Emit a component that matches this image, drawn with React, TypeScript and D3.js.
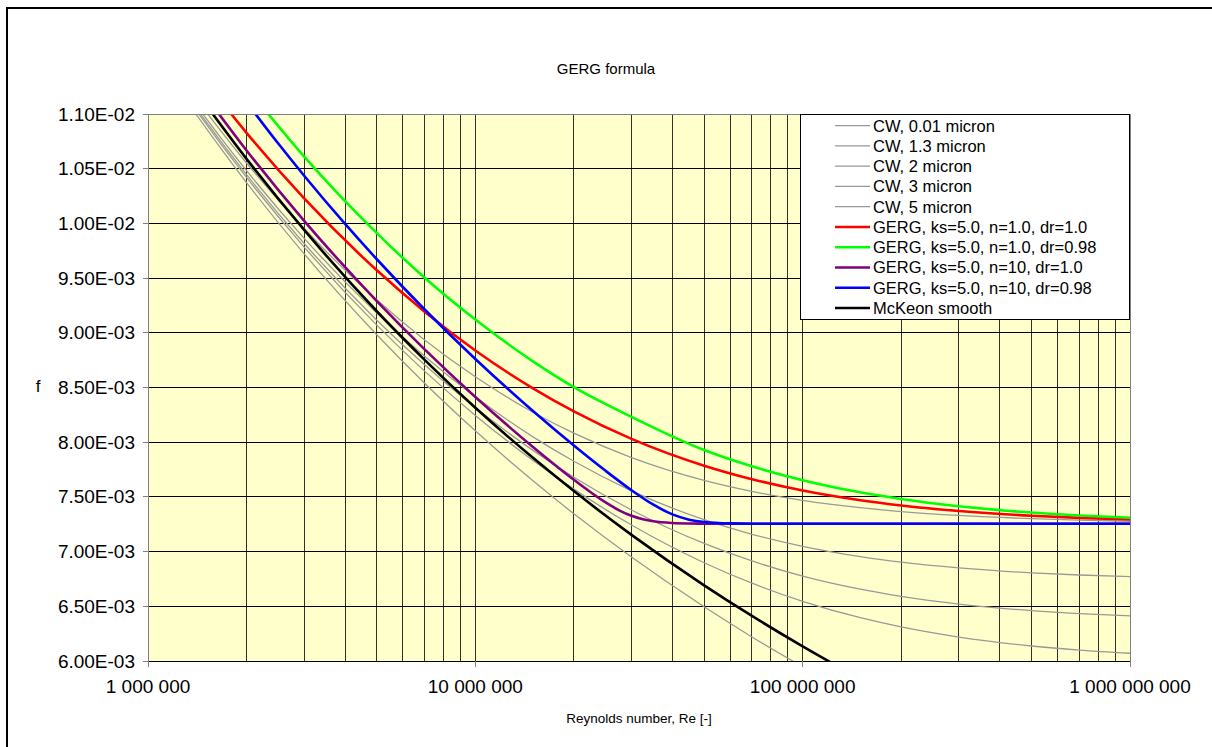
import React from "react";
import * as d3 from "d3";

// ---------- data ----------
const reCW = [1.3e6, 1.4e6, 2e6, 3e6, 5e6, 7e6, 1e7, 1.5e7, 2e7, 3e7, 5e7, 7e7, 1e8, 1.5e8, 2e8, 3e8, 5e8, 7e8, 1e9];
const cw001 = [0.011137, 0.011001, 0.010373, 0.0097214, 0.0089821, 0.008539, 0.008104, 0.0076474, 0.0073462, 0.0069505, 0.0064956, 0.00622, 0.0059466];
const cw13 = [0.011174, 0.011038, 0.01042, 0.0097834, 0.0090701, 0.0086498, 0.0082448, 0.0078329, 0.0075707, 0.0072431, 0.0068982, 0.0067109, 0.0065457, 0.0063956, 0.0063112, 0.0062185, 0.0061372, 0.0060999, 0.0060707];
const cw2 = [0.011192, 0.011058, 0.010446, 0.0098158, 0.0091155, 0.0087077, 0.0083164, 0.0079252, 0.0076798, 0.0073804, 0.0070745, 0.0069143, 0.0067765, 0.0066569, 0.0065913, 0.0065207, 0.0064605, 0.0064334, 0.0064127];
const cw3 = [0.011219, 0.011087, 0.010482, 0.0098628, 0.0091796, 0.0087859, 0.0084156, 0.0080485, 0.0078254, 0.0075555, 0.0072916, 0.0071585, 0.0070478, 0.0069537, 0.0069033, 0.0068504, 0.0068059, 0.0067863, 0.0067714];
const cw5 = [0.011273, 0.011144, 0.010552, 0.0099528, 0.009302, 0.0089352, 0.0085988, 0.0082738, 0.0080822, 0.0078587, 0.0076505, 0.0075497, 0.0074686, 0.0074015, 0.0073663, 0.0073303, 0.0073005, 0.0072876, 0.0072776];

const reRed = [1.5e6, 2e6, 3e6, 5e6, 7e6, 1e7, 1.5e7, 2e7, 3e7, 5e7, 7e7, 1e8, 1.5e8, 2e8, 3e8, 5e8, 7e8, 1e9];
const gergRed = [0.011296, 0.010828, 0.010229, 0.009571, 0.0091931, 0.008838, 0.0084921, 0.0082815, 0.0080304, 0.0077852, 0.0076616, 0.007558, 0.0074697, 0.007422, 0.0073712, 0.007328, 0.0073085, 0.0072933];

const reGreen = [2e6, 3e6, 5e6, 7e6, 1e7, 1.5e7, 2e7, 3e7, 5e7, 7e7, 1e8, 1.5e8, 2e8, 3e8, 5e8, 7e8, 1e9];
const gergGreen = [0.011244, 0.010611, 0.0099112, 0.009504, 0.0091215, 0.0087386, 0.0085025, 0.0082315, 0.0079285, 0.0077796, 0.007653, 0.0075419, 0.0074807, 0.0074145, 0.0073567, 0.0073302, 0.0073095];

const rePurple = [1.4e6, 2e6, 3e6, 5e6, 7e6, 1e7, 1.5e7, 2e7, 2.5e7, 2.75e7, 3e7, 3.25e7, 3.5e7, 4e7, 4.5e7, 5e7, 7e7, 1e8, 1e9];
const gergPurple = [0.011285, 0.010667, 0.010023, 0.0092898, 0.0088482, 0.0084134, 0.0079564, 0.0076565, 0.0074494, 0.0073776, 0.0073272, 0.0072953, 0.0072769, 0.0072613, 0.0072568, 0.0072553, 0.0072544, 0.0072544, 0.0072544];

const reBlue = [1.8e6, 2.5e6, 3e6, 4e6, 5e6, 7e6, 1e7, 1.5e7, 2e7, 2.5e7, 3e7, 3.5e7, 4e7, 4.5e7, 5e7, 6e7, 7e7, 1e8, 1e9];
const gergBlue = [0.011291, 0.01073, 0.010436, 0.0099951, 0.0096723, 0.0092132, 0.0087604, 0.0082844, 0.0079694, 0.0077382, 0.007561, 0.0074283, 0.00734, 0.0072921, 0.0072704, 0.0072576, 0.0072551, 0.0072544, 0.0072544];

const reMcKeon = [1.4e6, 2e6, 3e6, 5e6, 7e6, 1e7, 1.5e7, 2e7, 3e7, 5e7, 7e7, 1e8, 1.3e8];
const mcKeon = [0.01121, 0.01059, 0.00994, 0.009197, 0.008753, 0.008315, 0.007857, 0.007553, 0.007153, 0.006692, 0.006412, 0.006134, 0.00594];

const seriesNames = [
  "CW, 0.01 micron",
  "CW, 1.3 micron",
  "CW, 2 micron",
  "CW, 3 micron",
  "CW, 5 micron",
  "GERG, ks=5.0, n=1.0, dr=1.0",
  "GERG, ks=5.0, n=1.0, dr=0.98",
  "GERG, ks=5.0, n=10, dr=1.0",
  "GERG, ks=5.0, n=10, dr=0.98",
  "McKeon smooth",
];
const seriesColors = ["#999999", "#999999", "#999999", "#999999", "#999999", "#ff0000", "#00ff00", "#800080", "#0000ff", "#000000"];
const seriesX = [reCW, reCW, reCW, reCW, reCW, reRed, reGreen, rePurple, reBlue, reMcKeon];
const seriesY = [cw001, cw13, cw2, cw3, cw5, gergRed, gergGreen, gergPurple, gergBlue, mcKeon];

const yTicks = [0.006, 0.0065, 0.007, 0.0075, 0.008, 0.0085, 0.009, 0.0095, 0.01, 0.0105, 0.011];
const xTicks = [1e6, 1e7, 1e8, 1e9];
const xTickLabels = ["1 000 000", "10 000 000", "100 000 000", "1 000 000 000"];

const titleText = "GERG formula";
const xTitle = "Reynolds number, Re [-]";
const yTitle = "f";

// ---------- layout ----------
const W = 1212;
const H = 747;
const PL = 148, PR = 1130, PT = 114, PB = 661;
const FONT = "'Liberation Sans', Arial, sans-serif";

function fmtE(v: number) {
  const [m, e] = v.toExponential(2).split("e");
  const n = Math.abs(parseInt(e, 10));
  return `${m}E${e[0] === "-" ? "-" : "+"}${String(n).padStart(2, "0")}`;
}

export default function App() {
  const x = d3.scaleLog().domain([1e6, 1e9]).range([PL, PR]);
  const y = d3.scaleLinear().domain([0.006, 0.011]).range([PB, PT]);

  const minor: number[] = [];
  for (let p = 6; p < 9; p++) {
    for (let k = 1; k <= 9; k++) {
      const v = k * Math.pow(10, p);
      if (v > 1e6) minor.push(v);
    }
  }

  const line = d3
    .line<[number, number]>()
    .x((d) => x(d[0]))
    .y((d) => y(d[1]))
    .curve(d3.curveMonotoneX);

  const paths = seriesY.map((ys, i) => {
    const xs = seriesX[i];
    const pts: [number, number][] = ys.map((v, j) => [xs[j], v]);
    return line(pts) || "";
  });

  const legX = 800, legY = 114, legW = 329, legH = 205;
  const legRow = 20.25, legFirst = 125.7;

  return (
    <svg width={W} height={H} style={{ position: "absolute", left: 0, top: 0, background: "#fff" }} fontFamily={FONT}>
      <defs>
        <clipPath id="plotClip">
          <rect x={PL} y={PT} width={PR - PL} height={PB - PT} />
        </clipPath>
      </defs>
      <rect x={0} y={0} width={W} height={H} fill="#fff" />
      {/* outer frame */}
      <rect x={7} y={8} width={W + 20} height={H + 20} fill="none" stroke="#000" strokeWidth={2} />

      <text x={606} y={68} textAnchor="middle" dominantBaseline="central" fontSize={15}>
        {titleText}
      </text>

      {/* plot area */}
      <rect x={PL} y={PT} width={PR - PL} height={PB - PT} fill="#ffffcc" />
      <g shapeRendering="crispEdges">
        {yTicks.slice(1, -1).map((t) => (
          <line key={"h" + t} x1={PL} x2={PR} y1={y(t)} y2={y(t)} stroke="#000" strokeWidth={1} />
        ))}
        {minor.map((t) => (
          <line key={"v" + t} x1={x(t)} x2={x(t)} y1={PT} y2={PB} stroke="#000" strokeWidth={1} opacity={0.8} />
        ))}
      </g>

      <g clipPath="url(#plotClip)" fill="none" strokeLinejoin="round" strokeLinecap="round">
        {paths.map((d, i) => (
          <path key={i} d={d} stroke={seriesColors[i]} strokeWidth={i < 5 ? 1.3 : 2.6} />
        ))}
      </g>

      {/* border and axes */}
      <g shapeRendering="crispEdges">
        <rect x={PL} y={PT} width={PR - PL} height={PB - PT} fill="none" stroke="#808080" strokeWidth={1} />
        <line x1={PL} x2={PR} y1={PB} y2={PB} stroke="#000" />
        {yTicks.map((t) => (
          <line key={"yt" + t} x1={PL - 5} x2={PL} y1={y(t)} y2={y(t)} stroke="#808080" />
        ))}
        {xTicks.map((t) => (
          <line key={"xt" + t} x1={x(t)} x2={x(t)} y1={PB} y2={PB + 6} stroke="#808080" />
        ))}
      </g>

      {yTicks.map((t) => (
        <text key={"yl" + t} x={135} y={y(t)} textAnchor="end" dominantBaseline="central" fontSize={19}>
          {fmtE(t)}
        </text>
      ))}
      {xTicks.map((t, i) => (
        <text key={"xl" + t} x={x(t)} y={686} textAnchor="middle" dominantBaseline="central" fontSize={19}>
          {xTickLabels[i]}
        </text>
      ))}
      <text x={38} y={386} textAnchor="middle" dominantBaseline="central" fontSize={17}>
        {yTitle}
      </text>
      <text x={639} y={718} textAnchor="middle" dominantBaseline="central" fontSize={13.5}>
        {xTitle}
      </text>

      {/* legend */}
      <g shapeRendering="crispEdges">
        <rect x={legX + 0.5} y={legY + 0.5} width={legW} height={legH} fill="#fff" stroke="#000" strokeWidth={1} />
      </g>
      {seriesNames.map((n, i) => {
        const ly = legFirst + i * legRow;
        return (
          <g key={n}>
            <line x1={835} x2={870} y1={ly} y2={ly} stroke={seriesColors[i]} strokeWidth={i < 5 ? 1.3 : 2.6} />
            <text x={873} y={ly} dominantBaseline="central" fontSize={16.5}>
              {n}
            </text>
          </g>
        );
      })}
    </svg>
  );
}
